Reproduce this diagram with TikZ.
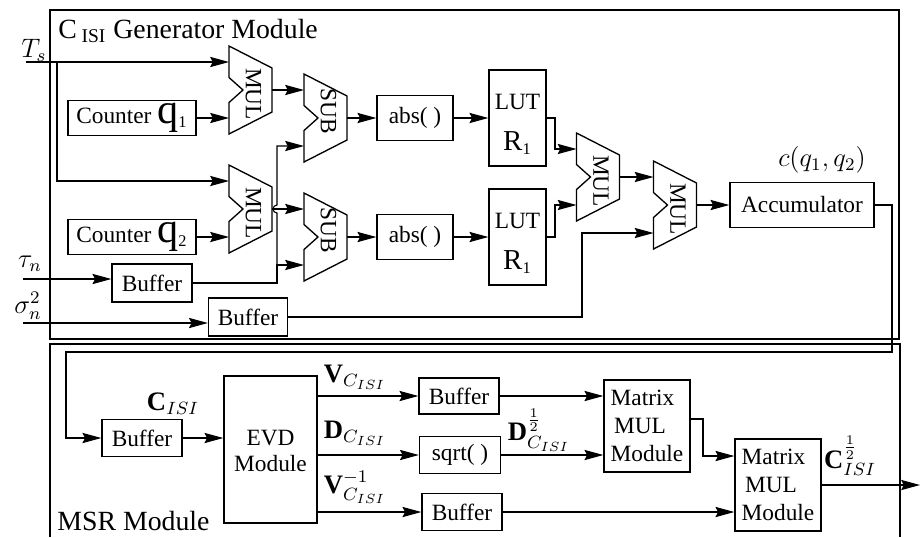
\documentclass[tikz,border=0pt]{standalone}
\usepackage{amsmath}
\usepackage{fontspec}
\setmainfont{Liberation Serif}
\usetikzlibrary{arrows.meta,positioning}

\newcommand{\pu}{0.45pt}
\newcommand{\lutR}{\raisebox{-3pt}[\height][\depth]{\begin{tabular}{@{}c@{}}LUT\\[6pt]{\fontsize{13}{13}\selectfont R}\textsubscript{1}\end{tabular}}}

\begin{document}
\begin{tikzpicture}[
    x=0.45pt, y=-0.45pt,
    >={Stealth[length=8.5pt,width=4.6pt,inset=1.2pt]},
    font=\fontsize{10.5}{12.6}\selectfont,
    wire/.style={line width=0.5pt},
    blk/.style 2 args={
		rectangle,
		draw=black,
		line width=0.6pt,
		inner sep=0pt,
		text centered,
		minimum width=#1*\pu,
		minimum height=#2*\pu
	},
    alu/.style={
		inner sep=0pt,
		minimum width=43*\pu,
		minimum height=88*\pu
	},
    modbox/.style={draw=black, line width=0.6pt},
    lbl/.style={inner sep=0pt, font=\fontsize{12}{14}\selectfont},
    ttl/.style={anchor=base west, inner sep=0pt, font=\fontsize{12.5}{15}\selectfont}
  ]
  \useasboundingbox (0,0) rectangle (920,537);

  % the two module frames
  \draw [modbox] (50,10) rectangle (899,339);
  \draw [modbox] (50,537) |- (900,344) -- (900,537);
  \node [ttl] (ttlGen) at (58,38) {C\,\textsubscript{ISI} Generator Module};
  \node [ttl] (ttlMsr) at (57,530) {MSR Module};

  % MUL / SUB blocks
  \foreach \nm/\cx/\cy/\txt/\dy in {mulA/250.5/90/MUL/4, subA/325.5/118/SUB/-7,
      mulB/250.5/209/MUL/4, subB/325.5/237/SUB/-7, mulC/598/177/MUL/4, mulD/675/205/MUL/4}{
    \node [alu] (\nm) at (\cx,\cy) {};
    \draw [line width=0.6pt] (\cx-21.5,\cy-44) -- (\cx+21.5,\cy-22) -- (\cx+21.5,\cy+22)
      -- (\cx-21.5,\cy+44) -- (\cx-21.5,\cy+12.5) -- (\cx-7.5,\cy) -- (\cx-21.5,\cy-12.5) -- cycle;
    \node [rotate=-90, inner sep=0pt] at (\cx+3,\cy+\dy) {\txt};
    \coordinate (\nm-a) at (\cx-21.5,\cy-28);
    \coordinate (\nm-b) at (\cx-21.5,\cy+28);
  }

  % blocks of the generator module
  \node [blk={128}{35}] (cntA) at (132,118) {Counter {\fontsize{19}{19}\selectfont q}\textsubscript{1}};
  \node [blk={128}{35}] (cntB) at (132,237) {Counter {\fontsize{19}{19}\selectfont q}\textsubscript{2}};
  \node [blk={80}{38}] (bufT) at (152,283) {Buffer};
  \node [blk={79}{38}] (bufS) at (248,317) {Buffer};
  \node [blk={76}{45}] (absA) at (415,118) {abs( )};
  \node [blk={76}{45}] (absB) at (415,237) {abs( )};
  \node [blk={57}{96}] (lutA) at (517.5,118) {\lutR};
  \node [blk={57}{96}] (lutB) at (517.5,237) {\lutR};
  \node [blk={144}{45}] (accu) at (802,205) {Accumulator};

  % blocks of the MSR module
  \node [blk={80}{37}] (bufC) at (142,438) {Buffer};
  \node [blk={93}{147}, align=center, text depth=0pt] (evd) at (270.5,449.5)
    {\raisebox{6pt}{\begin{tabular}{@{}c@{}}EVD\\[-1pt]Module\end{tabular}}};
  \node [blk={80}{36}] (bufV) at (459,396) {Buffer};
  \node [blk={81}{37}] (sqrtD) at (460,455) {sqrt( )};
  \node [blk={80}{37}] (bufW) at (462,512) {Buffer};
  \node [blk={86}{92}, align=left] (mmA) at (647,426) {Matrix\\\hspace*{1.5pt}MUL\\Module};
  \node [blk={86}{92}, align=left] (mmB) at (778,485) {Matrix\\\hspace*{1.5pt}MUL\\Module};

  % signal labels
  \node [lbl] (lblTs) at (34,50) {$T_s$};
  \node [lbl] (lblTau) at (30,264) {$\tau_n$};
  \node [lbl] (lblSig) at (28,306) {$\sigma_n^2$};
  \node [lbl] (lblCq) at (822,160) {$c(q_1,q_2)$};
  \node [lbl] (lblC) at (173,404) {$\mathbf{C}_{ISI}$};
  \node [lbl] (lblV) at (355,377) {$\mathbf{V}_{C_{ISI}}$};
  \node [lbl] (lblD) at (355,433) {$\mathbf{D}_{C_{ISI}}$};
  \node [lbl] (lblVi) at (355,487) {$\mathbf{V}^{-1}_{C_{ISI}}$};
  \node [lbl] (lblDh) at (539,430) {$\mathbf{D}^{\frac{1}{2}}_{C_{ISI}}$};
  \node [lbl] (lblCh) at (850,456) {$\mathbf{C}^{\frac{1}{2}}_{ISI}$};

  % free ends and bends
  \coordinate (inT) at (26,62);
  \coordinate (brT) at (57,62);
  \coordinate (inTau) at (23,279);
  \coordinate (inS) at (23,323);
  \coordinate (tpT) at (277,265);
  \coordinate (hpT) at (277,213);
  \coordinate (tpS) at (582,233);
  \coordinate (tpA) at (555,149);
  \coordinate (tpB) at (555,205);
  \coordinate (fbA) at (892,352);
  \coordinate (fbB) at (66,438);
  \coordinate (kA) at (703,456);
  \coordinate (outC) at (920,485);

  % generator wiring
  \draw [wire,->] (inT) -- (mulA-a);
  \draw [wire,->] (brT) |- (mulB-a);
  \draw [wire,->] (cntA.east) -- (mulA-b);
  \draw [wire,->] (cntB.east) -- (mulB-b);
  \draw [wire,->] (inTau) -- (inTau -| bufT.west);
  \draw [wire,->] (inS) -- (inS -| bufS.west);
  \draw [wire,->] (mulA.east) -- (subA-a);
  \draw [wire,->] (mulB.east) -- (subB-a);
  \draw [wire,->] (bufT.east) -| (tpT) -- (subB-b);
  \draw [wire,->] (tpT) -- (hpT) arc [start angle=-90, end angle=-270, radius=1.8pt] |- (subA-b);
  \draw [wire,->] (subA.east) -- (absA.west);
  \draw [wire,->] (subB.east) -- (absB.west);
  \draw [wire,->] (absA.east) -- (lutA.west);
  \draw [wire,->] (absB.east) -- (lutB.west);
  \draw [wire,->] (lutA.east) -| (tpA) -- (mulC-a);
  \draw [wire,->] (lutB.east) -| (tpB) -- (mulC-b);
  \draw [wire,->] (mulC.east) -- (mulD-a);
  \draw [wire,->] (bufS.east) -| (tpS) -- (mulD-b);
  \draw [wire,->] (mulD.east) -- (accu.west);
  \draw [wire,->] (accu.east) -| (fbA) -| (fbB) -- (bufC.west);

  % MSR wiring
  \draw [wire,->] (bufC.east) -- (bufC.east -| evd.west);
  \draw [wire,->] (bufV.west -| evd.east) -- (bufV.west);
  \draw [wire,->] (sqrtD.west -| evd.east) -- (sqrtD.west);
  \draw [wire,->] (bufW.west -| evd.east) -- (bufW.west);
  \draw [wire,->] (bufV.east) -- (bufV.east -| mmA.west);
  \draw [wire,->] (sqrtD.east) -- (sqrtD.east -| mmA.west);
  \draw [wire,->] ([yshift=7*\pu]mmA.east) -| (kA) -- (kA -| mmB.west);
  \draw [wire,->] (bufW.east) -- (bufW.east -| mmB.west);
  \draw [wire,->] (mmB.east) -- (outC);

\end{tikzpicture}
\end{document}
